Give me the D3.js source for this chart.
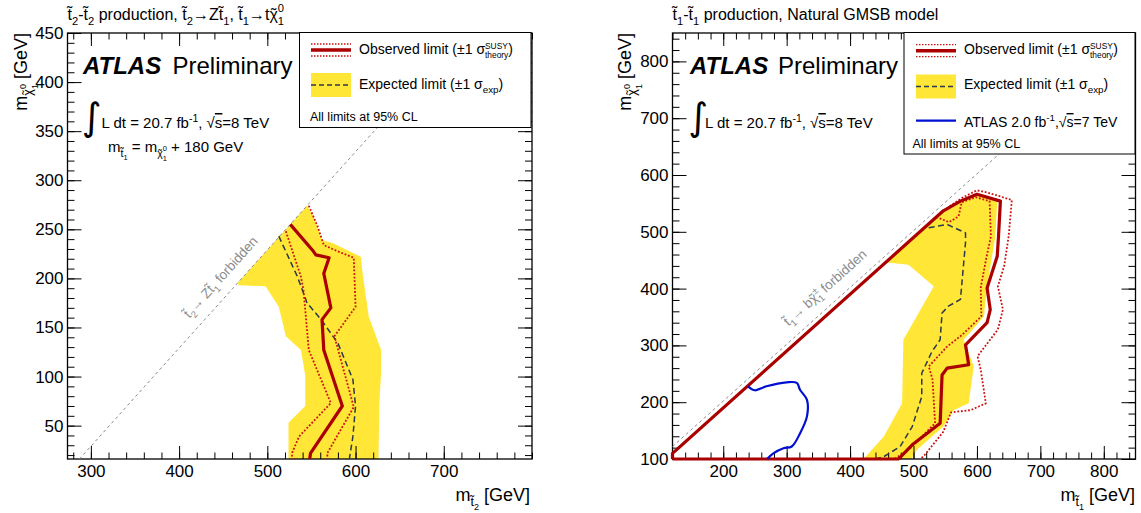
<!DOCTYPE html>
<html>
<head>
<meta charset="utf-8">
<script src="https://cdn.jsdelivr.net/npm/d3@7"></script>
<style>
body { margin: 0; background: #fff; }
svg { display: block; font-family: "Liberation Sans", Arial, Helvetica, sans-serif; }
</style>
</head>
<body>
<div id="chart"></div>
<script>
// ATLAS stop limits, two panels side by side

var width = 1141,
	height = 513;

// ---- left panel: t2 t2 production, points are [m_stop2, m_chi] in GeV
var left_exp_band = [[466,195],[545,274],[553,262],[562,239],[574,236],[606,222],[608,205],[615,161],[629,127],[629,105],[627,73],[626,16],
	[524,16],[524,53],[543,70],[543,101],[538,127],[521,141],[513,171],[498,192],[468,193]];
var left_exp = [[513,243],[534,202],[545,175],[561,158],[580,134],[597,97],[600,70],[597,39],[593,16]];
var left_obs = [[526,255],[551,229],[555,224],[570,221],[564,205],[572,170],[562,158],[564,127],[585,70],[549,22],[548,16]];
var left_obs_up = [[547,274],[557,253],[564,234],[576,229],[598,221],[600,171],[576,141],[598,69],[568,22],[568,16]];
var left_obs_down = [[521,248],[538,202],[541,188],[547,127],[572,73],[536,39],[528,22],[528,16]];
var left_forbidden = [[287,16],[721,450]];

// ---- right panel: t1 t1 production, GMSB, points are [m_stop1, m_chi] in GeV
var right_exp_band = [[458,446],[492,442],[532,404],[484,310],[482,198],[453,139],[421,100],[497,100],[505,116],[547,157],[563,186],
	[587,198],[595,263],[579,310],[611,351],[616,404],[629,492],[632,554],[616,563],[600,568],[575,556],[548,537]];
var right_exp = [[524,507],[553,513],[582,498],[582,481],[574,381],[555,369],[545,357],[542,310],[529,289],[513,251],[513,210],
	[498,157],[479,122],[453,104],[440,100]];
var right_obs = [[120,100],[120,110],[547,537],[574,554],[600,566],[637,554],[634,492],[632,457],[616,401],[621,363],[616,340],
	[582,301],[587,266],[553,260],[545,248],[542,163],[498,125],[480,104],[476,100],[120,100]];
var right_obs_up = [[557,545],[577,560],[600,573],[617,569],[655,556],[650,492],[643,440],[633,404],[641,363],[633,328],[601,281],
	[606,257],[614,198],[590,186],[559,182],[547,148],[519,109],[511,100]];
var right_obs_down = [[536,526],[556,517],[571,527],[576,552],[598,561],[620,554],[622,492],[615,455],[606,402],[607,351],[576,318],
	[553,298],[524,263],[530,240],[534,163],[495,119],[470,100]];
var right_atlas7 = [[239,228],[250,221],[268,228],[300,235],[316,234],[321,222],[332,204],[332,175],[321,145],[308,122],[295,119],
	[279,110],[269,100]];
var right_forbidden = [[120,122],[848,850]];

// tick labels
var left_x_ticks = [300, 400, 500, 600, 700],
	left_y_ticks = [50, 100, 150, 200, 250, 300, 350, 400, 450],
	right_x_ticks = [200, 300, 400, 500, 600, 700, 800],
	right_y_ticks = [100, 200, 300, 400, 500, 600, 700, 800];

var c_yellow = '#ffe637',
	c_obs = '#aa0000',
	c_dot = '#cc1010',
	c_exp = '#2b3848',
	c_blue = '#0010d0',
	c_gray = '#8c8c8c';

var svg = d3.select('#chart').append('svg')
	.attr('width', width)
	.attr('height', height);

svg.append('rect').attr('width', width).attr('height', height).attr('fill', '#fff');

var xL = d3.scaleLinear().domain([273.5, 800]).range([67.5, 532]),
	yL = d3.scaleLinear().domain([16, 450]).range([459, 33]),
	xR = d3.scaleLinear().domain([120, 850]).range([672.5, 1135.5]),
	yR = d3.scaleLinear().domain([100, 850]).range([459, 33]);

// text with sub/superscripts: each part is [text, scale, shift in em, flag]
// flag 'back' stacks the part over the previous one, 'tl' puts a tilde on it, 'over' overlines it
function rich(text, parts, fs) {
	var cur = 0, last_len = 0, carry = 0;
	parts.forEach(function(p) {
		var size = fs * (p[1] || 1);
		var t = text.append('tspan').text(p[0])
			.attr('font-size', size);
		var shift = p[2] || 0;
		if (shift != cur) t.attr('dy', (shift - cur) * fs);
		cur = shift;
		var dx = carry;
		if (p[3] == 'back') dx -= last_len;
		if (dx) t.attr('dx', dx);
		if (p[3] == 'over') t.style('text-decoration', 'overline');
		var len = t.node().getComputedTextLength();
		carry = 0;
		if (p[3] == 'back' && last_len > len) carry = last_len - len;
		if (p[3] == 'tl') {
			var tl = text.append('tspan').text('\u02dc').attr('font-size', size);
			var tlen = tl.node().getComputedTextLength();
			tl.attr('dx', -(len + tlen) / 2);
			carry = (len - tlen) / 2;
		}
		last_len = len;
	});
	return text;
}

function label(x, y, parts, fs, anchor) {
	var t = svg.append('text')
		.attr('x', x)
		.attr('y', y)
		.attr('fill', '#000')
		.attr('text-anchor', anchor || 'start');
	return rich(t, parts, fs);
}

function draw_axes(x, y, x_major, x_minor, y_major, y_minor) {
	var g = svg.append('g');
	var x0 = x.range()[0], x1 = x.range()[1],
		y0 = y.range()[0], y1 = y.range()[1];

	g.append('g').attr('transform', 'translate(0,' + y0 + ')')
		.call(d3.axisBottom(x).tickValues(x_minor).tickSize(-6.5).tickFormat(''));
	g.append('g').attr('transform', 'translate(0,' + y0 + ')')
		.call(d3.axisBottom(x).tickValues(x_major).tickSizeInner(-13).tickSizeOuter(0).tickPadding(6).tickFormat(d3.format('d')));
	g.append('g').attr('transform', 'translate(0,' + y1 + ')')
		.call(d3.axisTop(x).tickValues(x_minor).tickSize(-6.5).tickFormat(''));
	g.append('g').attr('transform', 'translate(0,' + y1 + ')')
		.call(d3.axisTop(x).tickValues(x_major).tickSize(-13).tickFormat(''));

	g.append('g').attr('transform', 'translate(' + x0 + ',0)')
		.call(d3.axisLeft(y).tickValues(y_minor).tickSize(-7).tickFormat(''));
	g.append('g').attr('transform', 'translate(' + x0 + ',0)')
		.call(d3.axisLeft(y).tickValues(y_major).tickSizeInner(-14).tickSizeOuter(0).tickPadding(4).tickFormat(d3.format('d')));
	g.append('g').attr('transform', 'translate(' + x1 + ',0)')
		.call(d3.axisRight(y).tickValues(y_minor).tickSize(-7).tickFormat(''));
	g.append('g').attr('transform', 'translate(' + x1 + ',0)')
		.call(d3.axisRight(y).tickValues(y_major).tickSize(-14).tickFormat(''));

	g.selectAll('.domain').remove();
	g.selectAll('g').attr('font-family', null).attr('font-size', 17);
	g.selectAll('.tick line').attr('stroke', '#000').attr('stroke-width', 1);
	g.selectAll('.tick text').attr('fill', '#000');

	g.append('rect')
		.attr('x', x0).attr('y', y1)
		.attr('width', x1 - x0).attr('height', y0 - y1)
		.attr('fill', 'none')
		.attr('stroke', '#000')
		.attr('stroke-width', 1.3);
}

function contour(x, y, pts, color, w, dash, curve) {
	var line = d3.line()
		.x(function(d) { return x(d[0]); })
		.y(function(d) { return y(d[1]); });
	if (curve) line.curve(curve);
	return svg.append('path')
		.attr('d', line(pts))
		.attr('fill', 'none')
		.attr('stroke', color)
		.attr('stroke-width', w)
		.attr('stroke-linejoin', 'round')
		.attr('stroke-dasharray', dash || null);
}

function band(x, y, pts) {
	var line = d3.line()
		.x(function(d) { return x(d[0]); })
		.y(function(d) { return y(d[1]); });
	svg.append('path')
		.attr('d', line(pts) + 'Z')
		.attr('fill', c_yellow)
		.attr('stroke', 'none');
}

function diag_label(x, y, at, pts, parts) {
	var px = x(at), py = y(pts[0][1] + (at - pts[0][0]) * (pts[1][1] - pts[0][1]) / (pts[1][0] - pts[0][0]));
	var ang = Math.atan2(y(pts[1][1]) - y(pts[0][1]), x(pts[1][0]) - x(pts[0][0])) * 180 / Math.PI;
	var t = svg.append('text')
		.attr('transform', 'translate(' + px + ',' + py + ') rotate(' + ang + ')')
		.attr('text-anchor', 'middle')
		.attr('y', -12)
		.attr('fill', c_gray);
	rich(t, parts, 13.5);
}

function legend_obs(x, y) {
	svg.append('line').attr('x1', x).attr('x2', x + 40).attr('y1', y).attr('y2', y)
		.attr('stroke', c_obs).attr('stroke-width', 3.5);
	[-6, 6].forEach(function(o) {
		svg.append('line').attr('x1', x).attr('x2', x + 40).attr('y1', y + o).attr('y2', y + o)
			.attr('stroke', c_dot).attr('stroke-width', 1.3).attr('stroke-dasharray', '1.5,1.5');
	});
}

function legend_exp(x, y) {
	svg.append('rect').attr('x', x).attr('y', y - 12).attr('width', 40).attr('height', 24).attr('fill', c_yellow);
	svg.append('line').attr('x1', x).attr('x2', x + 40).attr('y1', y).attr('y2', y)
		.attr('stroke', c_exp).attr('stroke-width', 1.5).attr('stroke-dasharray', '5,3');
}

var tilde_t = 't\u0303',
	chi = '\u03c7';

// ================= left panel =================
band(xL, yL, left_exp_band);
draw_axes(xL, yL, left_x_ticks, d3.range(280, 801, 20), left_y_ticks, d3.range(20, 451, 10));
contour(xL, yL, left_forbidden, c_gray, 1, '3,3');
contour(xL, yL, left_exp, c_exp, 1.5, '6,3.5');
contour(xL, yL, left_obs_up, c_dot, 1.8, '1.8,1.8');
contour(xL, yL, left_obs_down, c_dot, 1.8, '1.8,1.8');
contour(xL, yL, left_obs, c_obs, 3.2);
diag_label(xL, yL, 461, left_forbidden, [[tilde_t], ['2', .7, .3], ['\u2192 Z' + tilde_t, 1, 0], ['1', .7, .3], [' forbidden', 1, 0]]);

// legend
svg.append('rect').attr('x', 299.5).attr('y', 32.5).attr('width', 231.5).attr('height', 95)
	.attr('fill', '#fff').attr('stroke', '#000').attr('stroke-width', 1);
legend_obs(311, 50);
label(359, 54, [['Observed limit (\u00b11 \u03c3'], ['SUSY', .6, -.35], ['theory', .6, .3, 'back'], [')', 1, 0]], 14);
legend_exp(311, 85);
label(359, 88.5, [['Expected limit (\u00b11 \u03c3'], ['exp', .7, .3], [')', 1, 0]], 14);
label(310, 120.5, [['All limits at 95% CL']], 12.5);

// texts
label(67.5, 20, [[tilde_t], ['2', .7, .3], ['-' + tilde_t, 1, 0], ['2', .7, .3], [' production, ' + tilde_t, 1, 0], ['2', .7, .3],
	['\u2192Z' + tilde_t, 1, 0], ['1', .7, .3], [', ' + tilde_t, 1, 0], ['1', .7, .3], ['\u2192t', 1, 0], [chi, 1, 0, 'tl'],
	['0', .7, -.5], ['1', .7, .3, 'back']], 16);

var atl = svg.append('text').attr('x', 83).attr('y', 74).attr('font-size', 24).attr('fill', '#000');
atl.append('tspan').text('ATLAS').attr('font-weight', 'bold').attr('font-style', 'italic');
atl.append('tspan').text('Preliminary').attr('x', 172.5);

svg.append('text').attr('x', 82).attr('y', 130).attr('font-size', 38)
	.attr('font-family', 'DejaVu Sans').text('\u222b');
label(101.5, 128, [['L dt = 20.7 fb'], ['-1', .7, -.4], [', \u221a', 1, 0], ['s', 1, 0, 'over'], ['=8 TeV', 1, 0]], 15);
label(108, 152, [['m'], [tilde_t, .7, .3], ['1', .5, .55], [' = m', 1, 0], [chi, .7, .3, 'tl'], ['0', .5, -.05], ['1', .5, .6, 'back'],
	[' + 180 GeV', 1, 0]], 15);

label(530, 501, [['m'], [tilde_t, .7, .3], ['2', .5, .5], [' [GeV]', 1, 0]], 18, 'end');
var ytl = svg.append('text').attr('transform', 'translate(27,33) rotate(-90)').attr('text-anchor', 'end').attr('fill', '#000');
rich(ytl, [['m'], [chi, .7, .3, 'tl'], ['0', .5, -.05], ['1', .5, .6, 'back'], [' [GeV]', 1, 0]], 18);

// ================= right panel =================
band(xR, yR, right_exp_band);
draw_axes(xR, yR, right_x_ticks, d3.range(120, 851, 20), right_y_ticks, d3.range(100, 851, 20));
contour(xR, yR, right_forbidden, c_gray, 1, '3,3');
contour(xR, yR, right_exp, c_exp, 1.5, '6,3.5');
contour(xR, yR, right_obs_up, c_dot, 1.8, '1.8,1.8');
contour(xR, yR, right_obs_down, c_dot, 1.8, '1.8,1.8');
contour(xR, yR, right_obs, c_obs, 3.2);
contour(xR, yR, right_atlas7, c_blue, 2.2, null, d3.curveCatmullRom);
diag_label(xR, yR, 378, right_forbidden, [[tilde_t], ['1', .7, .3], ['\u2192 b', 1, 0], [chi, 1, 0, 'tl'], ['\u00b1', .7, -.45],
	['1', .7, .3, 'back'], [' forbidden', 1, 0]]);

// legend
svg.append('rect').attr('x', 904).attr('y', 32.5).attr('width', 231).attr('height', 121.5)
	.attr('fill', '#fff').attr('stroke', '#000').attr('stroke-width', 1);
legend_obs(916, 50.7);
label(964, 54, [['Observed limit (\u00b11 \u03c3'], ['SUSY', .6, -.35], ['theory', .6, .3, 'back'], [')', 1, 0]], 14);
legend_exp(916, 86.5);
label(964, 89, [['Expected limit (\u00b11 \u03c3'], ['exp', .7, .3], [')', 1, 0]], 14);
svg.append('line').attr('x1', 916).attr('x2', 956).attr('y1', 120.7).attr('y2', 120.7)
	.attr('stroke', c_blue).attr('stroke-width', 2.2);
label(964, 127, [['ATLAS 2.0 fb'], ['-1', .7, -.4], [',\u221a', 1, 0], ['s', 1, 0, 'over'], ['=7 TeV', 1, 0]], 14);
label(912.5, 148, [['All limits at 95% CL']], 12.5);

label(672.5, 20, [[tilde_t], ['1', .7, .3], ['-' + tilde_t, 1, 0], ['1', .7, .3], [' production, Natural GMSB model', 1, 0]], 16);

var atr = svg.append('text').attr('x', 690).attr('y', 74).attr('font-size', 24).attr('fill', '#000');
atr.append('tspan').text('ATLAS').attr('font-weight', 'bold').attr('font-style', 'italic');
atr.append('tspan').text('Preliminary').attr('x', 778);

svg.append('text').attr('x', 688.5).attr('y', 130).attr('font-size', 38)
	.attr('font-family', 'DejaVu Sans').text('\u222b');
label(705, 128, [['L dt = 20.7 fb'], ['-1', .7, -.4], [', \u221a', 1, 0], ['s', 1, 0, 'over'], ['=8 TeV', 1, 0]], 15);

label(1135, 501, [['m'], [tilde_t, .7, .3], ['1', .5, .5], [' [GeV]', 1, 0]], 18, 'end');
var ytr = svg.append('text').attr('transform', 'translate(631,33) rotate(-90)').attr('text-anchor', 'end').attr('fill', '#000');
rich(ytr, [['m'], [chi, .7, .3, 'tl'], ['0', .5, -.05], ['1', .5, .6, 'back'], [' [GeV]', 1, 0]], 18);
</script>
</body>
</html>
